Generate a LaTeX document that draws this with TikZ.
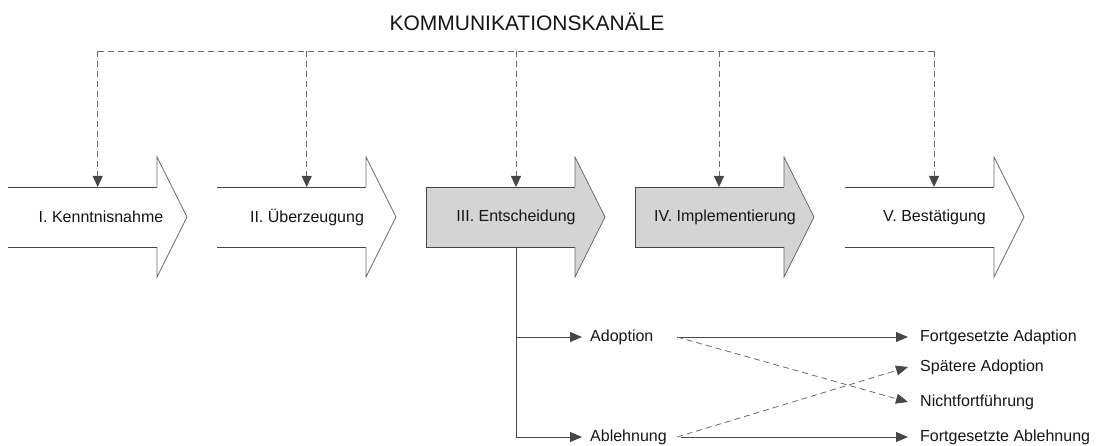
\documentclass[tikz,border=0pt]{standalone}
\usepackage{fontspec}
\setmainfont{Liberation Sans}
\usetikzlibrary{arrows.meta}
\definecolor{linegray}{HTML}{474747}
\definecolor{headgray}{HTML}{6A6A6A}
\definecolor{dashgray}{HTML}{6A6A6A}
\definecolor{boxgray}{HTML}{D4D4D4}
\definecolor{txt}{HTML}{151515}
\tikzset{
  lbl/.style={font=\fontsize{16}{19}\selectfont, text=txt, inner sep=0pt},
  ttl/.style={font=\fontsize{21}{25}\selectfont, text=txt, inner sep=0pt},
  comm/.style={draw=dashgray, dash pattern=on 6pt off 4pt, line width=0.8pt},
  commarrow/.style={comm, -{Triangle[length=11pt,width=10pt,fill=linegray,color=linegray]}},
  flow/.style={draw=linegray, line width=0.8pt, -{Triangle[length=12pt,width=10pt]}},
  flowdash/.style={draw=dashgray, line width=0.8pt, dash pattern=on 6pt off 4pt, -{Triangle[length=12pt,width=10pt,fill=linegray,color=linegray]}},
  phaseline/.style={draw=linegray, line width=0.8pt},
}
% #1 left x
\newcommand\openphase[1]{%
  \fill[white] (#1,187) -- ({#1+149},187) -- ({#1+149},157) -- ({#1+179},217) -- ({#1+149},277) -- ({#1+149},247) -- (#1,247) -- cycle;
  \draw[phaseline] (#1,187) -- ({#1+149},187);
  \draw[phaseline] (#1,247) -- ({#1+149},247);
  \draw[draw=headgray, line width=0.7pt] ({#1+149},187) -- ({#1+149},157) -- ({#1+179},217) -- ({#1+149},277) -- ({#1+149},247);
}
\newcommand\grayphase[1]{%
  \fill[boxgray] (#1,187) -- ({#1+149},187) -- ({#1+149},157) -- ({#1+179},217) -- ({#1+149},277) -- ({#1+149},247) -- (#1,247) -- cycle;
  \draw[phaseline] ({#1+149},187) -- (#1,187) -- (#1,247) -- ({#1+149},247);
  \draw[draw=headgray, line width=0.7pt] ({#1+149},187) -- ({#1+149},157) -- ({#1+179},217) -- ({#1+149},277) -- ({#1+149},247);
}
\begin{document}
\begin{tikzpicture}[x=1pt,y=-1pt]
\useasboundingbox (0,0) rectangle (1101,446);

% phase arrows
\openphase{8}
\openphase{217}
\grayphase{426}
\grayphase{635}
\openphase{845}

\node[lbl] (p1) at (101,217) {I. Kenntnisnahme};
\node[lbl] (p2) at (307,217) {II. Überzeugung};
\node[lbl] (p3) at (516,217) {III. Entscheidung};
\node[lbl] (p4) at (725,217) {IV. Implementierung};
\node[lbl] (p5) at (934.5,217) {V. Bestätigung};

% communication channels
\node[ttl] (title) at (527,22) {KOMMUNIKATIONSKANÄLE};
\coordinate (k1) at (97.7,51);
\coordinate (k2) at (306.7,51);
\coordinate (k3) at (516,51);
\coordinate (k4) at (719,51);
\coordinate (k5) at (934,51);
\coordinate (t1) at (97.7,187);
\coordinate (t2) at (306.7,187);
\coordinate (t3) at (516,187);
\coordinate (t4) at (719,187);
\coordinate (t5) at (934,187);
\draw[comm] (k1) -- (k5);
\draw[commarrow] (k1) -- (t1);
\draw[commarrow] (k2) -- (t2);
\draw[commarrow] (k3) -- (t3);
\draw[commarrow] (k4) -- (t4);
\draw[commarrow] (k5) -- (t5);

% decision branches
\coordinate (dec) at (516,247);
\coordinate (b1) at (516,337);
\coordinate (b2) at (516,437);
\node[lbl, anchor=west] (adopt) at (590,337) {Adoption};
\node[lbl, anchor=west] (reject) at (590,437) {Ablehnung};
\draw[phaseline] (dec) -- (b2);
\draw[flow] (b1) -- ([xshift=-8pt]adopt.west);
\draw[flow] (b2) -- ([xshift=-8pt]reject.west);

\node[lbl, anchor=west] (fa) at (920,337) {Fortgesetzte Adaption};
\node[lbl, anchor=west] (sa) at (920,367) {Spätere Adoption};
\node[lbl, anchor=west] (nf) at (920,402) {Nichtfortführung};
\node[lbl, anchor=west] (fb) at (920,437) {Fortgesetzte Ablehnung};

\coordinate (aout) at (677,337);
\coordinate (rout) at (677,437);
\coordinate (rsolid) at (681,437);
\draw[flow] (aout) -- ([xshift=-12pt]fa.west);
\draw[flowdash] (aout) -- ([xshift=-12pt]nf.west);
\draw[flowdash] (rout) -- ([xshift=-12pt]sa.west);
\draw[flow] (rsolid) -- ([xshift=-12pt]fb.west);
\end{tikzpicture}
\end{document}
